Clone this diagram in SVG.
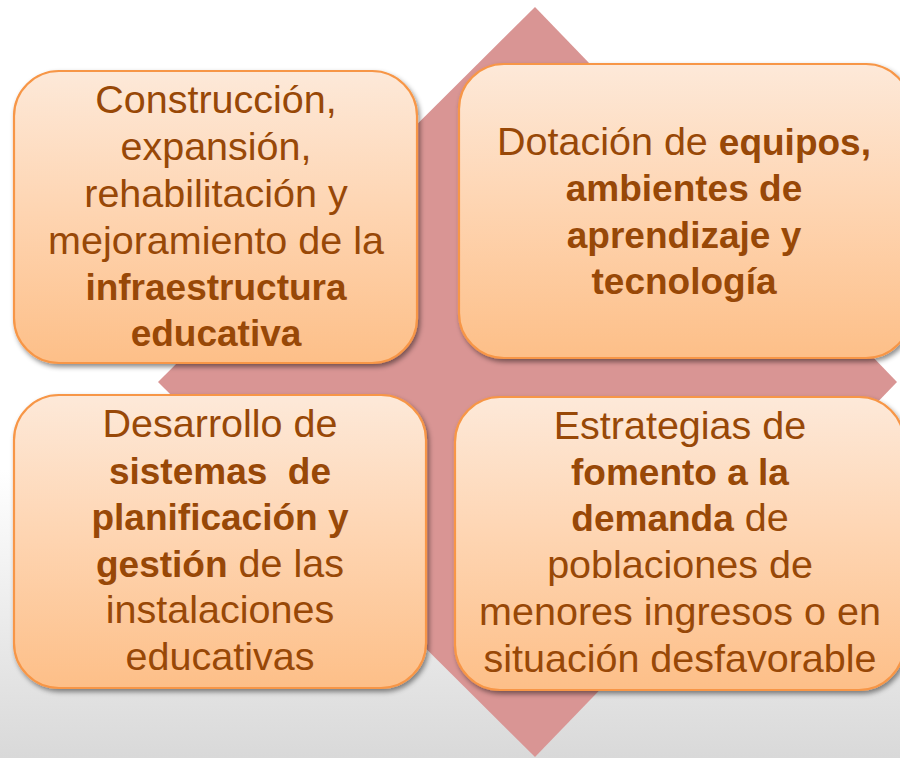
<svg xmlns="http://www.w3.org/2000/svg" width="900" height="758" viewBox="0 0 900 758">
<defs>
<linearGradient id="bg" x1="0" y1="0" x2="0" y2="1">
<stop offset="0" stop-color="#ffffff"/>
<stop offset="0.62" stop-color="#ffffff"/>
<stop offset="1" stop-color="#d9d9d9"/>
</linearGradient>
<linearGradient id="boxfill" x1="0" y1="0" x2="0" y2="1">
<stop offset="0" stop-color="#fde9d9"/>
<stop offset="0.45" stop-color="#fed6b4"/>
<stop offset="1" stop-color="#fdbf88"/>
</linearGradient>
<filter id="shadow" x="-10%" y="-10%" width="125%" height="125%">
<feDropShadow dx="2" dy="3" stdDeviation="2.5" flood-color="#000" flood-opacity="0.45"/>
</filter>
</defs>
<style>
.box{fill:url(#boxfill);stroke:#f79646;stroke-width:2.2;filter:url(#shadow)}
.t{font-family:"Liberation Sans",Arial,sans-serif;font-size:39.5px;fill:#984807;text-anchor:middle;white-space:pre}
.b{font-weight:bold;font-size:37px}
</style>
<rect x="0" y="0" width="900" height="758" fill="url(#bg)"/>
<g id="connectors">
<polygon points="535,7 897,382 535,757 158,382" fill="#d99594"/>
</g>
<g id="node1">
<rect class="box" x="14" y="71" width="403" height="292" rx="45" ry="45"/>
<text class="t" x="216" y="113">Construcción,</text>
<text class="t" x="216" y="160">expansión,</text>
<text class="t" x="216" y="207">rehabilitación y</text>
<text class="t" x="216" y="254">mejoramiento de la</text>
<text class="t b" x="216" y="300">infraestructura</text>
<text class="t b" x="216" y="346">educativa</text>
</g>
<g id="node2">
<rect class="box" x="459" y="64" width="452" height="294" rx="45" ry="45"/>
<text class="t" x="684" y="155">Dotación de <tspan class="b">equipos,</tspan></text>
<text class="t b" x="684" y="201">ambientes de</text>
<text class="t b" x="684" y="248">aprendizaje y</text>
<text class="t b" x="684" y="294">tecnología</text>
</g>
<g id="node3">
<rect class="box" x="14" y="395" width="412" height="293" rx="45" ry="45"/>
<text class="t" x="220" y="437">Desarrollo de</text>
<text class="t b" x="220" y="484">sistemas  de</text>
<text class="t b" x="220" y="530">planificación y</text>
<text class="t" x="220" y="577"><tspan class="b">gestión</tspan> de las</text>
<text class="t" x="220" y="623">instalaciones</text>
<text class="t" x="220" y="670">educativas</text>
</g>
<g id="node4">
<rect class="box" x="455" y="397" width="449" height="293" rx="45" ry="45"/>
<text class="t" x="680" y="439">Estrategias de</text>
<text class="t b" x="680" y="485">fomento a la</text>
<text class="t" x="680" y="531"><tspan class="b">demanda</tspan> de</text>
<text class="t" x="680" y="578">poblaciones de</text>
<text class="t" x="680" y="625">menores ingresos o en</text>
<text class="t" x="680" y="672">situación desfavorable</text>
</g>
</svg>
